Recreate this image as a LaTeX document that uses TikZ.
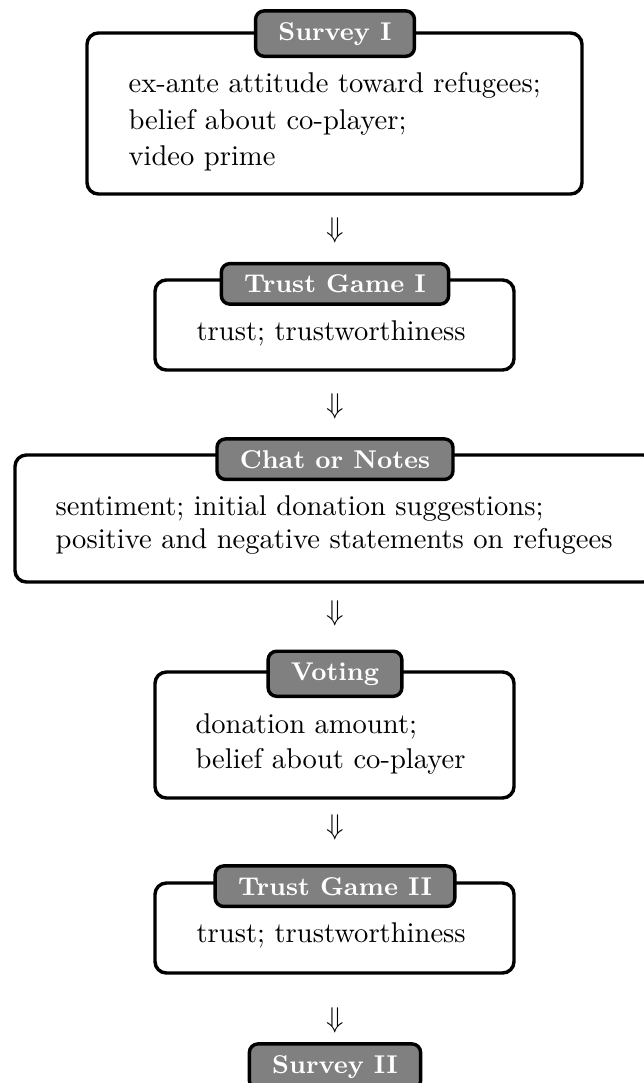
\documentclass[tikz,border=0pt]{standalone}
\definecolor{tabgray}{gray}{0.5}
\begin{document}
\begin{tikzpicture}[x=0.35pt,y=-0.35pt,
  stagebox/.style={draw=black, line width=1.2pt, rounded corners=4pt, fill=white, inner sep=0pt},
  tabbox/.style={draw=black, line width=1.2pt, rounded corners=3pt, fill=tabgray, text=white,
    font=\fontsize{9}{11}\selectfont\bfseries, inner xsep=8pt, inner ysep=3.9pt, anchor=base},
  bodytext/.style={font=\fontsize{10}{12}\selectfont, anchor=base west, inner sep=0pt},
  flowarrow/.style={font=\fontsize{10}{12}\selectfont, inner sep=0pt}]
\useasboundingbox (0,0) rectangle (644,1083);
\clip (0,0) rectangle (644,1083);

% Survey I
\node (b1) [stagebox, minimum width=173.25pt, minimum height=56.35pt] at (334.5,113.5) {};
\node (tab1) [tabbox] at (335,40) {Survey I};
\node (t1a) [bodytext] at (128,92.7) {ex-ante attitude toward refugees;};
\node (t1b) [bodytext] at (128,129.3) {belief about co-player;};
\node (t1c) [bodytext] at (128,165.7) {video prime};

\node (a1) [flowarrow] at (335,230) {$\Downarrow$};

% Trust Game I
\node (b2) [stagebox, minimum width=125.65pt, minimum height=31.5pt] at (334.5,325) {};
\node (tab2) [tabbox] at (335,292.7) {Trust Game I};
\node (t2a) [bodytext] at (196,340) {trust; trustworthiness};

\node (a2) [flowarrow] at (335,406) {$\Downarrow$};

% Chat or Notes
\node (b3) [stagebox, minimum width=224pt, minimum height=44.45pt] at (335,518.5) {};
\node (tab3) [tabbox] at (335,468) {Chat or Notes};
\node (t3a) [bodytext] at (55,515) {sentiment; initial donation suggestions;};
\node (t3b) [bodytext] at (55,548) {positive and negative statements on refugees};

\node (a3) [flowarrow] at (335,613) {$\Downarrow$};

% Voting
\node (b4) [stagebox, minimum width=125.65pt, minimum height=44.1pt] at (334.5,735) {};
\node (tab4) [tabbox] at (335,680) {Voting};
\node (t4a) [bodytext] at (195,733) {donation amount;};
\node (t4b) [bodytext] at (195,768) {belief about co-player};

\node (a4) [flowarrow] at (335,827) {$\Downarrow$};

% Trust Game II
\node (b5) [stagebox, minimum width=125.65pt, minimum height=31.5pt] at (334.5,928) {};
\node (tab5) [tabbox] at (335,895) {Trust Game II};
\node (t5a) [bodytext] at (196,942) {trust; trustworthiness};

\node (a5) [flowarrow] at (335,1020) {$\Downarrow$};

% Survey II
\node (tab6) [tabbox] at (335,1073) {Survey II};
\end{tikzpicture}
\end{document}
